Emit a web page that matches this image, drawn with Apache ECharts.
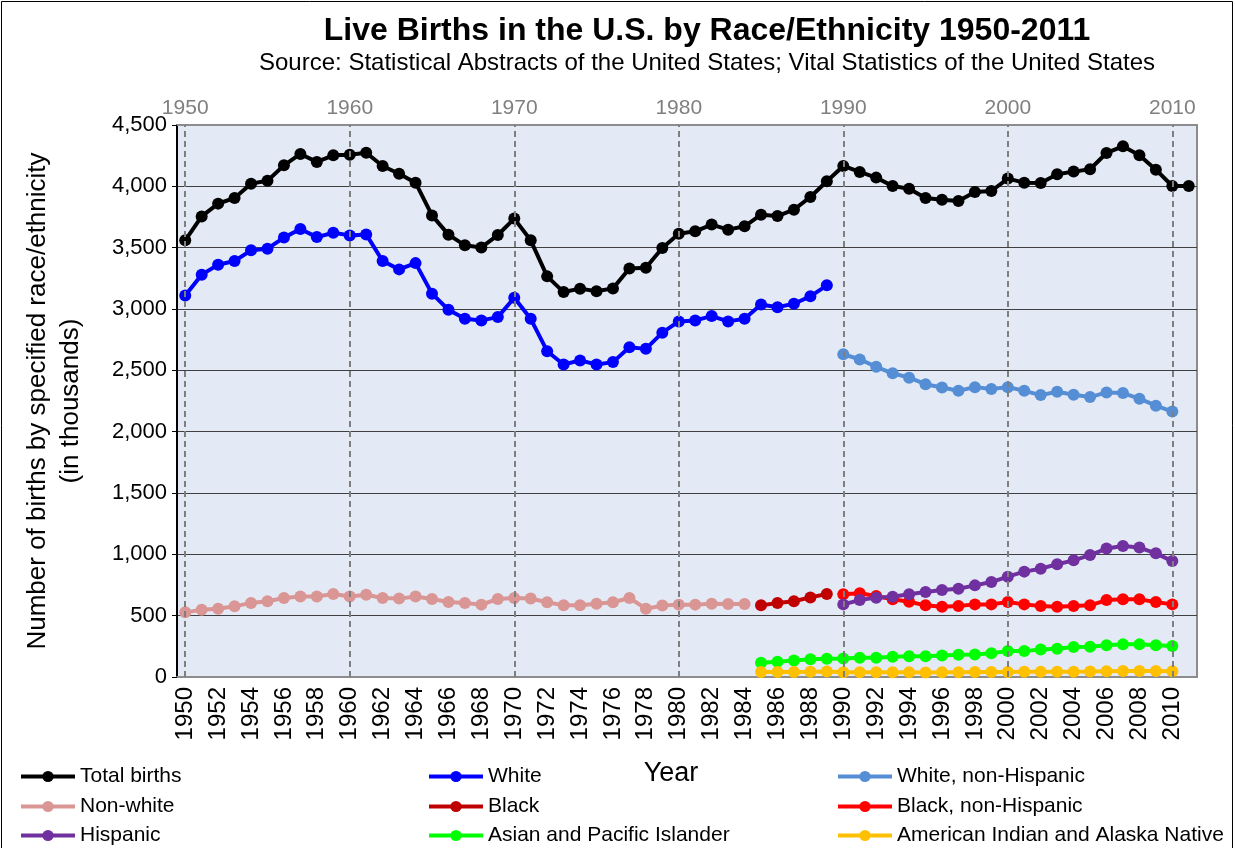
<!DOCTYPE html>
<html>
<head>
<meta charset="utf-8">
<script src="https://cdn.jsdelivr.net/npm/echarts@6/dist/echarts.min.js"></script>
<style>
  html, body { margin: 0; padding: 0; background: #fff; }
  #chart { width: 1235px; height: 848px; }
</style>
</head>
<body>
<div id="chart"></div>
<script>
// years on the x axis
var years = [];
for (var y = 1950; y <= 2011; y++) years.push(String(y));
var decades = ['1950', '1960', '1970', '1980', '1990', '2000', '2010'];

// births in thousands
var totalBirths = [3560, 3755, 3859, 3905, 4022, 4046, 4171, 4264, 4199, 4253,
  4258, 4274, 4166, 4103, 4030, 3763, 3606, 3519, 3502, 3603,
  3737, 3560, 3266, 3138, 3166, 3144, 3168, 3331, 3337, 3497,
  3614, 3633, 3688, 3647, 3674, 3769, 3758, 3810, 3913, 4041,
  4166, 4117, 4071, 4003, 3981, 3905, 3891, 3880, 3954, 3962,
  4063, 4030, 4027, 4098, 4120, 4139, 4272, 4326, 4253, 4136,
  4003, 4003];
var white = [3111, 3280, 3361, 3391, 3478, 3492, 3582, 3652, 3586, 3622,
  3600, 3608, 3391, 3323, 3374, 3125, 2994, 2920, 2907, 2934,
  3092, 2920, 2656, 2548, 2581, 2548, 2567, 2689, 2675, 2807,
  2899, 2907, 2942, 2899, 2920, 3037, 3015, 3043, 3103, 3193];
var whiteNonHisp = [2631, 2589, 2529, 2476, 2440, 2387, 2360, 2333, 2363, 2347,
  2363, 2333, 2298, 2325, 2301, 2282, 2320, 2315, 2269, 2212, 2164];
var nonWhite = [527, 549, 557, 576, 604, 617, 644, 657, 657, 677,
  657, 671, 644, 639, 657, 636, 612, 604, 590, 636,
  644, 640, 609, 584, 584, 598, 609, 644, 557, 582,
  590, 590, 598, 595, 595];
var black = [584, 604, 617, 649, 677];
var blackNonHisp = [674, 682, 660, 633, 614, 584, 573, 578, 592, 592,
  611, 592, 578, 573, 578, 584, 627, 633, 633, 611, 592];
var hispanic = [592, 627, 647, 655, 674, 693, 709, 720, 747, 774,
  818, 859, 883, 919, 951, 994, 1047, 1068, 1055, 1008, 945];
var asianPI = [117, 125, 135, 144, 149, 150, 157, 157, 166, 170,
  170, 176, 182, 184, 193, 211, 211, 225, 230, 244,
  247, 258, 266, 266, 258, 252];
var amIndian = [40, 40, 41, 42, 44, 39, 39, 39, 39, 38,
  37, 38, 38, 40, 40, 41, 42, 42, 43, 43,
  44, 47, 49, 49, 48, 47];

// legend layout: three columns of three rows
var legendCols = [
  ['Total births', 'Non-white', 'Hispanic'],
  ['White', 'Black', 'Asian and Pacific Islander'],
  ['White, non-Hispanic', 'Black, non-Hispanic', 'American Indian and Alaska Native']
];

var font = '"Liberation Sans", Arial, sans-serif';

// pair each value with its year, starting at startYear
function withYears(values, startYear) {
  return values.map(function (v, i) { return [String(startYear + i), v]; });
}

function lineSeries(name, values, startYear, color) {
  return {
    name: name,
    type: 'line',
    data: withYears(values, startYear),
    symbol: 'circle',
    symbolSize: 12,
    showAllSymbol: true,
    lineStyle: { color: color, width: 4 },
    itemStyle: { color: color },
    emphasis: { disabled: true }
  };
}

var series = [
  lineSeries('Total births', totalBirths, 1950, '#000000'),
  lineSeries('White', white, 1950, '#0000FF'),
  lineSeries('White, non-Hispanic', whiteNonHisp, 1990, '#558ED5'),
  lineSeries('Non-white', nonWhite, 1950, '#D99694'),
  lineSeries('Black', black, 1985, '#C00000'),
  lineSeries('Black, non-Hispanic', blackNonHisp, 1990, '#FF0000'),
  lineSeries('Hispanic', hispanic, 1990, '#7030A0'),
  lineSeries('Asian and Pacific Islander', asianPI, 1985, '#00FF00'),
  lineSeries('American Indian and Alaska Native', amIndian, 1985, '#FFC000')
];

// dashed decade lines
series[0].markLine = {
  silent: true,
  symbol: 'none',
  label: { show: false },
  lineStyle: { color: '#7f7f7f', type: [6, 4], width: 2 },
  data: decades.map(function (d) { return { xAxis: d }; })
};

// one legend per entry so the grid of names lines up
var colLeft = [19, 427, 836];
var rowTop = [766, 796, 825];
var legends = [];
legendCols.forEach(function (names, c) {
  names.forEach(function (name, r) {
    legends.push({
      left: colLeft[c],
      top: rowTop[r],
      padding: 0,
      itemWidth: 54,
      itemHeight: 14,
      selectedMode: false,
      lineStyle: { width: 4 },
      data: [name],
      textStyle: { fontSize: 21, color: '#000', fontFamily: font }
    });
  });
});

var myChart = echarts.init(document.getElementById('chart'));
var option = {
  animation: false,
  backgroundColor: '#ffffff',
  title: {
    text: 'Live Births in the U.S. by Race/Ethnicity 1950-2011',
    subtext: 'Source: Statistical Abstracts of the United States; Vital Statistics of the United States',
    left: 702,
    top: 10,
    textAlign: 'center',
    itemGap: 4,
    textStyle: { fontSize: 32, fontWeight: 'bold', color: '#000', fontFamily: font },
    subtextStyle: { fontSize: 24, color: '#000', fontFamily: font }
  },
  legend: legends,
  grid: {
    left: 177, right: 38, top: 125, bottom: 171,
    show: true,
    backgroundColor: '#E4EAF5',
    borderColor: '#8c8c8c',
    borderWidth: 2
  },
  xAxis: [{
    type: 'category',
    data: years,
    position: 'bottom',
    boundaryGap: true,
    name: 'Year',
    nameLocation: 'middle',
    nameGap: 83,
    nameTextStyle: { fontSize: 27, color: '#000', fontFamily: font, padding: [0, 32, 0, 0] },
    axisLine: { lineStyle: { color: '#8c8c8c', width: 2 } },
    axisTick: { interval: 0, length: 6, lineStyle: { color: '#000' } },
    axisLabel: { interval: 1, rotate: 90, fontSize: 24, color: '#000', margin: 10, fontFamily: font },
    splitLine: { show: false }
  }, {
    type: 'category',
    data: years,
    position: 'top',
    boundaryGap: true,
    axisLine: { lineStyle: { color: '#8c8c8c', width: 2 } },
    axisTick: { show: false },
    axisLabel: {
      interval: function (idx, val) { return decades.indexOf(val) >= 0; },
      fontSize: 21, color: '#808080', margin: 6, fontFamily: font
    },
    splitLine: { show: false }
  }],
  yAxis: {
    type: 'value',
    min: 0,
    max: 4500,
    interval: 500,
    name: 'Number of births by specified race/ethnicity\n(in thousands)',
    nameLocation: 'middle',
    nameGap: 90,
    nameTextStyle: { fontSize: 26, lineHeight: 33, color: '#000', fontFamily: font },
    axisLine: { show: true, lineStyle: { color: '#000', width: 2 } },
    axisTick: { show: true, length: 5, lineStyle: { color: '#000' } },
    axisLabel: {
      fontSize: 22, color: '#000', margin: 10, fontFamily: font,
      formatter: function (v) { return v.toLocaleString('en-US'); }
    },
    splitLine: { lineStyle: { color: '#404040', width: 1 } }
  },
  graphic: [{
    type: 'rect',
    shape: { x: 1.5, y: 1.5, width: 1231, height: 850 },
    style: { fill: null, stroke: '#000', lineWidth: 1 },
    silent: true
  }],
  series: series
};
myChart.setOption(option);
</script>
</body>
</html>
